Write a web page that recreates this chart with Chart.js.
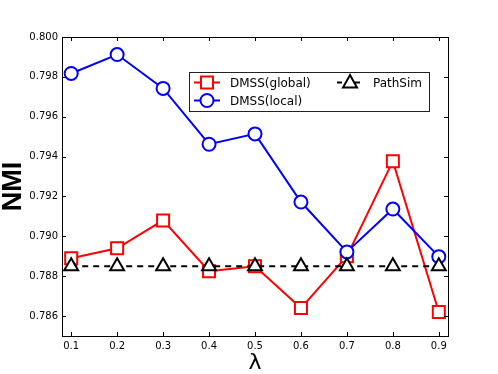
<!DOCTYPE html>
<html>
<head>
<meta charset="utf-8">
<script src="https://cdn.jsdelivr.net/npm/chart.js@4/dist/chart.umd.min.js"></script>
<style>
html,body{margin:0;padding:0;background:#fff;}
#wrap{width:498px;height:374px;position:relative;}
</style>
</head>
<body>
<div id="wrap"><canvas id="c" width="498" height="374"></canvas></div>
<script>
const lambdas = [0.1, 0.2, 0.3, 0.4, 0.5, 0.6, 0.7, 0.8, 0.9];
const dmssGlobal = [0.7889, 0.7894, 0.7908, 0.78825, 0.7885, 0.7864, 0.7890, 0.79377, 0.7862];
const dmssLocal = [0.79817, 0.79912, 0.79742, 0.79462, 0.79514, 0.79172, 0.78922, 0.79137, 0.78898];
const pathSim = [0.7885, 0.7885, 0.7885, 0.7885, 0.7885, 0.7885, 0.7885, 0.7885, 0.7885];
const xTicks = [0.1, 0.2, 0.3, 0.4, 0.5, 0.6, 0.7, 0.8, 0.9];
const yTicks = [0.786, 0.788, 0.790, 0.792, 0.794, 0.796, 0.798, 0.800];
const seriesNames = ['DMSS(global)', 'DMSS(local)', 'PathSim'];

const toXY = arr => lambdas.map((x, i) => ({x: x, y: arr[i]}));

const frameTicks = {
  id: 'frameTicks',
  afterDatasetsDraw(chart) {
    const {ctx, chartArea: a, scales} = chart;
    ctx.save();
    ctx.strokeStyle = '#000';
    ctx.lineWidth = 1;
    ctx.beginPath();
    xTicks.forEach(v => {
      const px = Math.round(scales.x.getPixelForValue(v)) + 0.5;
      ctx.moveTo(px, a.bottom); ctx.lineTo(px, a.bottom - 4);
      ctx.moveTo(px, a.top); ctx.lineTo(px, a.top + 4);
    });
    yTicks.forEach(v => {
      const py = Math.round(scales.y.getPixelForValue(v)) + 0.5;
      ctx.moveTo(a.left, py); ctx.lineTo(a.left + 4, py);
      ctx.moveTo(a.right, py); ctx.lineTo(a.right - 4, py);
    });
    ctx.stroke();
    ctx.strokeRect(Math.round(a.left) + 0.5, Math.round(a.top) + 0.5, Math.round(a.right - a.left), Math.round(a.bottom - a.top));
    ctx.restore();
  }
};

function drawMarker(ctx, style, x, y, color) {
  ctx.save();
  ctx.strokeStyle = color; ctx.fillStyle = '#fff'; ctx.lineWidth = 2;
  ctx.beginPath();
  if (style === 'rect') {
    ctx.rect(x - 6, y - 6, 12, 12);
  } else if (style === 'circle') {
    ctx.arc(x, y, 6.5, 0, Math.PI * 2);
  } else {
    ctx.moveTo(x, y - 7.5); ctx.lineTo(x + 7, y + 5); ctx.lineTo(x - 7, y + 5); ctx.closePath();
  }
  ctx.fill(); ctx.stroke();
  ctx.restore();
}

const customLegend = {
  id: 'customLegend',
  afterDraw(chart) {
    const ctx = chart.ctx;
    ctx.save();
    const bx = 189.5, by = 72.5, bw = 240, bh = 39;
    ctx.fillStyle = '#fff';
    ctx.fillRect(bx, by, bw, bh);
    ctx.strokeStyle = '#222'; ctx.lineWidth = 1;
    ctx.strokeRect(bx, by, bw, bh);
    const items = [
      {name: seriesNames[0], color: '#ff0000', style: 'rect', dash: [], x: 194, y: 82.5},
      {name: seriesNames[1], color: '#0000ff', style: 'circle', dash: [], x: 194, y: 100.5},
      {name: seriesNames[2], color: '#000000', style: 'triangle', dash: [5, 4], x: 337, y: 82.5}
    ];
    ctx.font = '12px "DejaVu Sans"';
    ctx.textBaseline = 'middle';
    items.forEach(it => {
      ctx.save();
      ctx.strokeStyle = it.color; ctx.lineWidth = 2; ctx.setLineDash(it.dash);
      ctx.beginPath(); ctx.moveTo(it.x, it.y); ctx.lineTo(it.x + 26, it.y); ctx.stroke();
      ctx.restore();
      drawMarker(ctx, it.style, it.x + 13, it.y, it.color);
      ctx.fillStyle = '#000';
      ctx.fillText(it.name, it.x + 36, it.y + 1);
    });
    ctx.restore();
  }
};

new Chart(document.getElementById('c'), {
  type: 'line',
  data: {
    datasets: [
      {label: seriesNames[0], data: toXY(dmssGlobal), borderColor: '#ff0000', backgroundColor: '#ffffff',
       borderWidth: 2, pointStyle: 'rect', pointRadius: 8.5, pointBorderWidth: 2, pointBackgroundColor: '#fff', order: 3},
      {label: seriesNames[1], data: toXY(dmssLocal), borderColor: '#0000ff', backgroundColor: '#ffffff',
       borderWidth: 2, pointStyle: 'circle', pointRadius: 6.5, pointBorderWidth: 2, pointBackgroundColor: '#fff', order: 2},
      {label: seriesNames[2], data: toXY(pathSim), borderColor: '#000000', backgroundColor: '#ffffff',
       borderWidth: 2, borderDash: [6, 5], pointStyle: 'triangle', pointRadius: 8, pointBorderWidth: 2, pointBackgroundColor: '#fff', order: 1}
    ]
  },
  options: {
    responsive: false,
    animation: false,
    devicePixelRatio: 1,
    layout: {padding: {top: 37, right: 50, left: 0, bottom: 0}},
    plugins: {legend: {display: false}, tooltip: {enabled: false}},
    elements: {line: {tension: 0}},
    scales: {
      x: {
        type: 'linear', min: 0.08, max: 0.92,
        afterBuildTicks: s => { s.ticks = xTicks.map(v => ({value: v})); },
        afterFit: s => { s.height = 38; },
        grid: {display: false, drawTicks: false},
        border: {display: true, color: '#000', width: 1},
        ticks: {color: '#000', font: {family: 'DejaVu Sans', size: 10}, padding: 4,
                callback: v => v.toFixed(1), maxRotation: 0},
        title: {display: true, text: 'λ', color: '#000', font: {family: 'DejaVu Sans', size: 22, lineHeight: 1},
                padding: {top: 0, bottom: 0}}
      },
      y: {
        type: 'linear', min: 0.785, max: 0.800,
        afterBuildTicks: s => { s.ticks = yTicks.map(v => ({value: v})); },
        afterFit: s => { s.width = 62; },
        grid: {display: false, drawTicks: false},
        border: {display: true, color: '#000', width: 1},
        ticks: {color: '#000', font: {family: 'DejaVu Sans', size: 10}, padding: 4,
                callback: v => v.toFixed(3)},
        title: {display: true, text: 'NMI', color: '#000',
                font: {family: '"Liberation Sans Narrow", "Liberation Sans"', size: 27, weight: 'bold', lineHeight: 1},
                padding: {top: 0, bottom: 0}}
      }
    }
  },
  plugins: [frameTicks, customLegend]
});
</script>
</body>
</html>
